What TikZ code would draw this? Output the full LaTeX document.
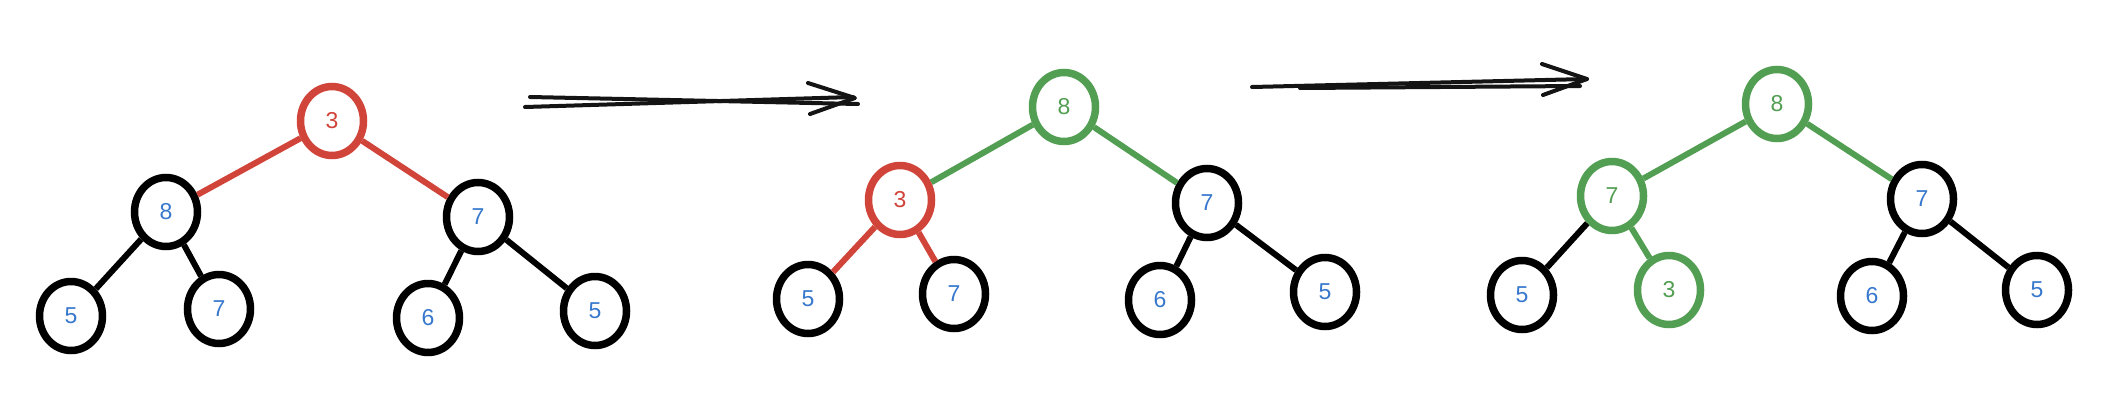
\documentclass[tikz,border=0pt]{standalone}
\usepackage{fontspec}
\setmainfont{Liberation Sans}
\usetikzlibrary{shapes.geometric}
\definecolor{cred}{RGB}{208,68,58}
\definecolor{cgreen}{RGB}{82,158,82}
\definecolor{cblue}{RGB}{55,120,205}
\definecolor{cink}{RGB}{20,20,20}
\tikzset{
  nd/.style={ellipse, draw=black, line width=7.5pt, minimum width=63pt, minimum height=69pt, inner sep=0pt, text=cblue, font=\fontsize{23}{23}\selectfont},
  rednd/.style={nd, draw=cred, text=cred},
  greennd/.style={nd, draw=cgreen, text=cgreen},
  edge/.style={line width=6pt, draw=black},
  rededge/.style={edge, draw=cred},
  greenedge/.style={edge, draw=cgreen},
  arr/.style={line width=4pt, draw=cink, line cap=round, line join=round}
}
\begin{document}
\begin{tikzpicture}[x=1pt,y=-1pt]
\useasboundingbox (0,0) rectangle (2122,402);
% Tree 1
\node[rednd] (r1) at (332,121) {3};
\node[nd] (a1) at (166,212) {8};
\node[nd] (b1) at (478,217) {7};
\node[nd] (c1) at (71,316) {5};
\node[nd] (d1) at (219,309) {7};
\node[nd] (e1) at (428,318) {6};
\node[nd] (f1) at (595,311) {5};
\draw[rededge] (r1) -- (a1);
\draw[rededge] (r1) -- (b1);
\draw[edge] (a1) -- (c1);
\draw[edge] (a1) -- (d1);
\draw[edge] (b1) -- (e1);
\draw[edge] (b1) -- (f1);
% Arrow 1
\coordinate (p1a) at (530,97);
\coordinate (p1b) at (858,104);
\coordinate (p1c) at (525,107);
\coordinate (p1d) at (853,97);
\coordinate (h1a) at (808,83);
\coordinate (h1t) at (855,98);
\coordinate (h1b) at (810,114);
\draw[arr] (p1a) -- (p1b);
\draw[arr] (p1c) -- (p1d);
\draw[arr] (h1a) -- (h1t) -- (h1b);
% Tree 2
\node[greennd] (r2) at (1064,107) {8};
\node[rednd] (a2) at (900,200) {3};
\node[nd] (b2) at (1207,203) {7};
\node[nd] (c2) at (808,299) {5};
\node[nd] (d2) at (954,294) {7};
\node[nd] (e2) at (1160,300) {6};
\node[nd] (f2) at (1325,292) {5};
\draw[greenedge] (r2) -- (a2);
\draw[greenedge] (r2) -- (b2);
\draw[rededge] (a2) -- (c2);
\draw[rededge] (a2) -- (d2);
\draw[edge] (b2) -- (e2);
\draw[edge] (b2) -- (f2);
% Arrow 2
\coordinate (p2a) at (1252,87);
\coordinate (p2b) at (1587,79);
\coordinate (p2c) at (1300,88);
\coordinate (p2d) at (1580,86);
\coordinate (h2a) at (1542,64);
\coordinate (h2t) at (1587,79);
\coordinate (h2b) at (1543,95);
\draw[arr] (p2a) -- (p2b);
\draw[arr] (p2c) -- (p2d);
\draw[arr] (h2a) -- (h2t) -- (h2b);
% Tree 3
\node[greennd] (r3) at (1777,104) {8};
\node[greennd] (a3) at (1612,196) {7};
\node[nd] (b3) at (1922,199) {7};
\node[nd] (c3) at (1522,295) {5};
\node[greennd] (d3) at (1669,290) {3};
\node[nd] (e3) at (1872,296) {6};
\node[nd] (f3) at (2037,290) {5};
\draw[greenedge] (r3) -- (a3);
\draw[greenedge] (r3) -- (b3);
\draw[edge] (a3) -- (c3);
\draw[greenedge] (a3) -- (d3);
\draw[edge] (b3) -- (e3);
\draw[edge] (b3) -- (f3);
\end{tikzpicture}
\end{document}
